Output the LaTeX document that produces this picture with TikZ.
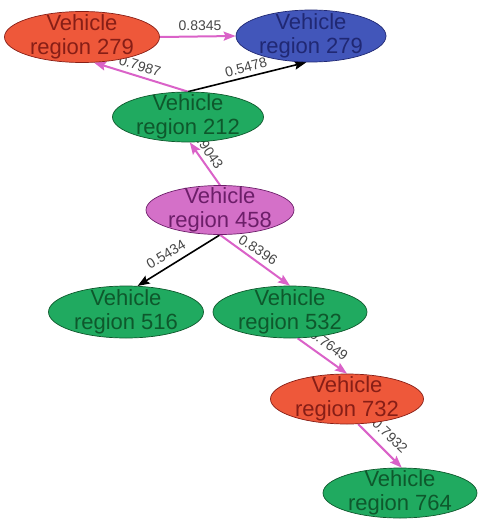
\documentclass[tikz,border=0pt]{standalone}
\usepackage{fontspec}
\setmainfont{Liberation Sans}
\usetikzlibrary{shapes.geometric,arrows.meta}
\pgfdeclarelayer{bg}
\pgfsetlayers{bg,main}
\definecolor{redfill}{RGB}{238,88,58}
\definecolor{redtext}{RGB}{135,30,22}
\definecolor{bluefill}{RGB}{66,86,186}
\definecolor{bluetext}{RGB}{32,40,115}
\definecolor{greenfill}{RGB}{32,170,96}
\definecolor{greentext}{RGB}{14,88,44}
\definecolor{pinkfill}{RGB}{212,112,200}
\definecolor{pinktext}{RGB}{108,30,105}
\definecolor{pinkedge}{RGB}{218,98,200}
\definecolor{labgray}{RGB}{70,70,70}
\tikzset{
  vshape/.style={ellipse, inner sep=0pt, draw=#1text, line width=0.7pt, fill=#1fill},
  vtext/.style={text=#1text, align=center, inner sep=0pt, font=\fontsize{22}{23.5}\selectfont},
  pinkarrow/.style={draw=pinkedge, line width=2pt, -{Stealth[length=12pt,width=9pt,inset=2pt]}},
  blackarrow/.style={draw=black, line width=1.6pt, -{Stealth[length=12pt,width=9pt,inset=2pt]}},
  elabel/.style={text=labgray, inner sep=0pt, font=\fontsize{14}{14}\selectfont},
}
\begin{document}
\begin{tikzpicture}[x=1pt,y=-1pt]
\useasboundingbox (0,0) rectangle (478,519);
% nodes
\node[vshape=red,   minimum width=155pt, minimum height=51pt] (A) at (82,37) {};
\node[vshape=blue,  minimum width=150pt, minimum height=52pt] (B) at (311,36) {};
\node[vshape=green, minimum width=151pt, minimum height=50pt] (C) at (188,117) {};
\node[vshape=pink,  minimum width=148pt, minimum height=49pt] (D) at (220,210) {};
\node[vshape=green, minimum width=155pt, minimum height=52pt] (E) at (126,312) {};
\node[vshape=green, minimum width=154pt, minimum height=52pt] (F) at (290,312) {};
\node[vshape=red,   minimum width=153pt, minimum height=50pt] (G) at (347,399) {};
\node[vshape=green, minimum width=154pt, minimum height=50pt] (H) at (400,493) {};
% texts
\node[vtext=red]   (At) at (A) {Vehicle\\region 279};
\node[vtext=blue]  (Bt) at (B) {Vehicle\\region 279};
\node[vtext=green] (Ct) at (C) {Vehicle\\region 212};
\node[vtext=pink]  (Dt) at (D) {Vehicle\\region 458};
\node[vtext=green] (Et) at (E) {Vehicle\\region 516};
\node[vtext=green] (Ft) at (F) {Vehicle\\region 532};
\node[vtext=red]   (Gt) at (G) {Vehicle\\region 732};
\node[vtext=green] (Ht) at (H) {Vehicle\\region 764};
% edges
\begin{pgfonlayer}{bg}
\draw[pinkarrow] (A.east) -- (B.west);
\draw[pinkarrow] (C.north) -- (A.-65);
\draw[blackarrow] (C.north) -- (B.-100);
\draw[pinkarrow] (D.north) -- (C.-86);
\draw[blackarrow] (D.south) -- (E.66);
\draw[pinkarrow] (D.south) -- (F.north);
\draw[pinkarrow] (F.-74) -- (G.north);
\draw[pinkarrow] (G.-66) -- (H.86);
\node[elabel] (l1) at (200,26) {0.8345};
\node[elabel, rotate=-17] (l2) at (140,66) {0.7987};
\node[elabel, rotate=15] (l3) at (246,67) {0.5478};
\node[elabel, rotate=-56] (l4) at (208,150) {0.9043};
\node[elabel, rotate=31] (l5) at (166,254) {0.5434};
\node[elabel, rotate=-33] (l6) at (258,250) {0.8396};
\node[elabel, rotate=-36] (l7) at (329,345) {0.7649};
\node[elabel, rotate=-44] (l8) at (390,436) {0.7932};
\end{pgfonlayer}
\end{tikzpicture}
\end{document}
